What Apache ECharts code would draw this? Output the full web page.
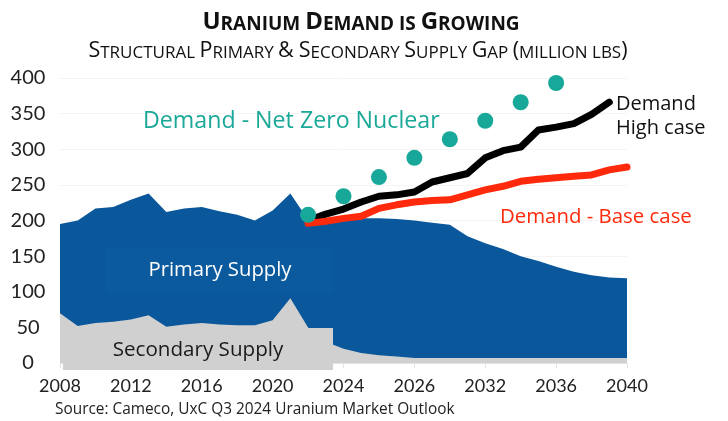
<!DOCTYPE html>
<html><head><meta charset="utf-8">
<script src="https://cdn.jsdelivr.net/npm/echarts@6/dist/echarts.min.js"></script>
<style>html,body{margin:0;padding:0;background:#fff}#c{width:728px;height:421px}</style>
</head><body><div id="c"></div>
<script>
const years = ['2008','2009','2010','2011','2012','2013','2014','2015','2016','2017','2018','2019','2020','2021','2022','2023','2024','2025','2026','2027','2028','2029','2030','2031','2032','2033','2034','2035','2036','2037','2038','2039','2040'];
const xTickLabels = ['2008','2012','2016','2020','2024','2026','2032','2036','2040'];
const totalSupply = [195,200,217,219,229,238,212,217,219,213,208,200,214,238,201,200,202,203,203,202,200,197,194,178,168,160,150,143,135,128,123,120,119];
const secondarySupply = [70,52,56,58,61,67,51,54,56,54,53,53,60,91,50,30,20,14,11,9,7,7,7,7,7,7,7,7,7,7,7,7,7];
const highYears = ['2022','2023','2024','2025','2026','2027','2028','2029','2030','2031','2032','2033','2034','2035','2036','2037','2038','2039'];
const demandHigh = [200,209,216,226,234,236,240,254,260,266,288,298,303,327,331,336,349,366];
const baseYears = ['2022','2023','2024','2025','2026','2027','2028','2029','2030','2031','2032','2033','2034','2035','2036','2037','2038','2039','2040'];
const demandBase = [196,199,203,206,217,222,226,228,229,236,243,248,255,258,260,262,264,271,275];
const netZeroYears = ['2022','2024','2026','2028','2030','2032','2034','2036'];
const demandNetZero = [208,234,261,288,314,340,366,393];

const pair = (xs, vs) => xs.map((x, i) => [x, vs[i]]);
const FONT = 'Open Sans';
const LFONT = 'Lato';
const chart = echarts.init(document.getElementById('c'), null, {renderer: 'canvas'});
const big = {fontFamily: FONT, fontWeight: 'bold', fontSize: 24, color: '#111', verticalAlign: 'bottom', lineHeight: 28};
const sm = {fontFamily: FONT, fontWeight: 'bold', fontSize: 19, color: '#111', verticalAlign: 'bottom', lineHeight: 28};
const big2 = {fontFamily: FONT, fontWeight: 'normal', fontSize: 21.5, color: '#111', verticalAlign: 'bottom', lineHeight: 25};
const sm2 = {fontFamily: FONT, fontWeight: 'normal', fontSize: 17, color: '#111', verticalAlign: 'bottom', lineHeight: 25};
chart.setOption({
  animation: false,
  backgroundColor: '#fff',
  title: [
    {text: '{b|U}{s|RANIUM }{b|D}{s|EMAND IS }{b|G}{s|ROWING}', left: 356, top: 1, textAlign: 'center',
     textStyle: {rich: {b: big, s: sm}}},
    {text: '{b|S}{s|TRUCTURAL }{b|P}{s|RIMARY }{b|&} {b|S}{s|ECONDARY }{b|S}{s|UPPLY }{b|G}{s|AP }{b|(}{s|MILLION LBS}{b|)}', left: 353, top: 32, textAlign: 'center',
     textStyle: {fontWeight: 'normal', rich: {b: big2, s: sm2}}}
  ],
  grid: {left: 60, right: 101, top: 78, bottom: 58},
  xAxis: {
    type: 'category', data: years, boundaryGap: false,
    axisLine: {show: true, lineStyle: {color: '#e3e3e3'}},
    axisTick: {show: true, interval: 3, lineStyle: {color: '#e3e3e3'}},
    axisLabel: {interval: 3, margin: 14, fontFamily: LFONT, fontSize: 18, color: '#222',
      formatter: (v, i) => xTickLabels[i / 4] || ''}
  },
  yAxis: {
    type: 'value', min: 0, max: 400, interval: 50,
    axisLine: {show: false}, axisTick: {show: false},
    splitLine: {show: true, lineStyle: {color: '#f4f4f4'}},
    axisLabel: {align: 'center', margin: 32, fontFamily: LFONT, fontSize: 20, color: '#222'}
  },
  series: [
    {name: 'Total supply', type: 'line', data: totalSupply, symbol: 'none', silent: true,
     lineStyle: {width: 0}, areaStyle: {color: '#0a579b', opacity: 1}, z: 1},
    {name: 'Secondary supply', type: 'line', data: secondarySupply, symbol: 'none', silent: true,
     lineStyle: {width: 0}, areaStyle: {color: '#d0d0d0', opacity: 1}, z: 2},
    {name: 'Demand High case', type: 'line', data: pair(highYears, demandHigh), symbol: 'none',
     lineStyle: {width: 7, color: '#000', join: 'round', cap: 'round'}, z: 5},
    {name: 'Demand Base case', type: 'line', data: pair(baseYears, demandBase), symbol: 'none',
     lineStyle: {width: 7, color: '#ff2a0c', join: 'round', cap: 'round'}, z: 6},
    {name: 'Demand Net Zero Nuclear', type: 'scatter', data: pair(netZeroYears, demandNetZero),
     symbol: 'circle', symbolSize: 16, itemStyle: {color: '#17a899', opacity: 1}, z: 7}
  ],
  graphic: [
    {type: 'rect', shape: {x: 106, y: 247, width: 227, height: 46}, style: {fill: '#0b5a9d'}, z: 10},
    {type: 'text', x: 220, y: 270, style: {text: 'Primary Supply', fill: '#fff', font: '20.3px ' + FONT, align: 'center', verticalAlign: 'middle'}, z: 11},
    {type: 'rect', shape: {x: 63, y: 328, width: 270, height: 42}, style: {fill: '#d0d0d0'}, z: 10},
    {type: 'text', x: 198, y: 350, style: {text: 'Secondary Supply', fill: '#1a1a1a', font: '20.6px ' + FONT, align: 'center', verticalAlign: 'middle'}, z: 11},
    {type: 'text', x: 143, y: 121, style: {text: 'Demand - Net Zero Nuclear', fill: '#1aa898', font: '23.2px ' + FONT, align: 'left', verticalAlign: 'middle'}, z: 11},
    {type: 'text', x: 616, y: 104, style: {text: 'Demand', fill: '#111', font: '20px ' + FONT, align: 'left', verticalAlign: 'middle'}, z: 11},
    {type: 'text', x: 616, y: 128, style: {text: 'High case', fill: '#111', font: '20px ' + FONT, align: 'left', verticalAlign: 'middle'}, z: 11},
    {type: 'text', x: 500, y: 217, style: {text: 'Demand - Base case', fill: '#ff2a0c', font: '20.4px ' + FONT, align: 'left', verticalAlign: 'middle'}, z: 11},
    {type: 'text', x: 55, y: 410, style: {text: 'Source: Cameco, UxC Q3 2024 Uranium Market Outlook', fill: '#222', font: '15.4px ' + FONT, align: 'left', verticalAlign: 'middle'}, z: 11}
  ]
});
</script></body></html>
